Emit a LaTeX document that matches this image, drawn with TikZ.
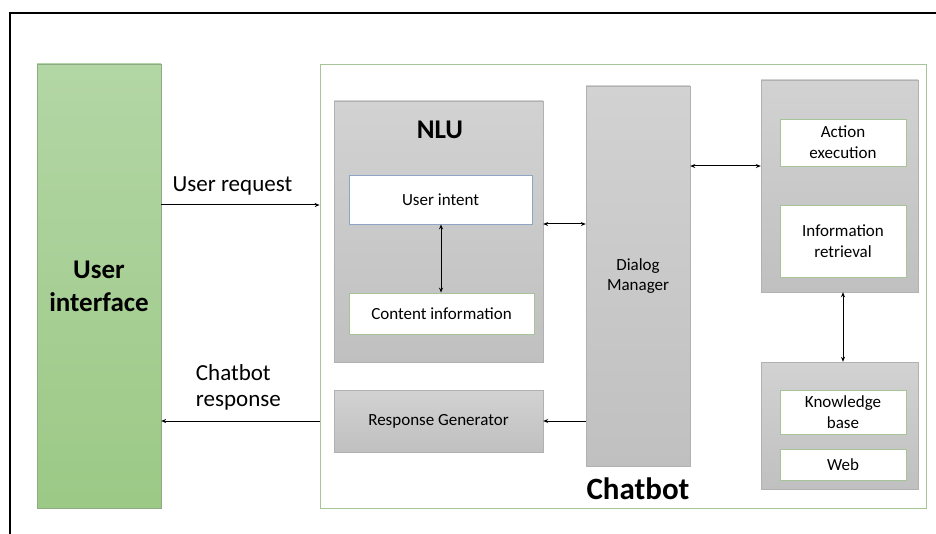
\documentclass[tikz,border=0pt]{standalone}
\usepackage{fontspec}
\setmainfont{Carlito}
\usetikzlibrary{arrows.meta,positioning,calc}
\definecolor{uiTop}{HTML}{B3D6A5}
\definecolor{uiBot}{HTML}{9CC986}
\definecolor{boxLine}{HTML}{A6C497}
\definecolor{greyTop}{HTML}{D2D2D2}
\definecolor{greyBot}{HTML}{C0C0C0}
\definecolor{intentLine}{HTML}{8EA6C6}
\tikzset{
	greybox/.style={draw=greyBot!92!black, line width=0.4pt, top color=greyTop, bottom color=greyBot, inner sep=0pt},
	whitebox/.style={draw=boxLine, fill=white, line width=0.8pt, align=center, font=\fontsize{17}{21}\selectfont, inner sep=0pt},
	both/.style={{Stealth[length=5pt,width=4pt]}-{Stealth[length=5pt,width=4pt]}, line width=1pt},
	one/.style={-{Stealth[length=5pt,width=4pt]}, line width=1pt},
	biglab/.style={font=\fontsize{23}{26}\selectfont, align=left}
}
\begin{document}
\begin{tikzpicture}[x=1pt, y=-1pt]
	\useasboundingbox (0,0) rectangle (936,534);
	% frame round the figure
	\draw[line width=2.4pt] (10,534) -- (10,13) -- (936,13);
	
	\node[draw=uiTop!80!black, line width=0.3pt, top color=uiTop, bottom color=uiBot, minimum width=124pt, minimum height=444pt, align=center, font=\fontsize{27}{33}\selectfont\bfseries] (ui) at (99,286) {User\\interface};
	\node[draw=boxLine, line width=0.8pt, minimum width=606pt, minimum height=444pt] (bot) at (623,286) {};
	\node[font=\fontsize{31}{36}\selectfont\bfseries] (botlab) at (638,489) {Chatbot};
	
	% NLU block
	\node[greybox, minimum width=209pt, minimum height=261pt] (nlu) at (438.5,231.5) {};
	\node[font=\fontsize{27}{32}\selectfont\bfseries] (nlulab) at (440,130) {NLU};
	\node[whitebox, draw=intentLine, minimum width=183pt, minimum height=49pt] (intent) at (440.5,199.5) {User intent};
	\node[whitebox, minimum width=185pt, minimum height=41pt] (content) at (441.5,313.5) {Content information};
	
	\node[greybox, minimum width=209pt, minimum height=62pt, font=\fontsize{17}{21}\selectfont] (rg) at (438.5,421) {Response Generator};
	\node[greybox, minimum width=104pt, minimum height=380pt, align=center, font=\fontsize{17}{20}\selectfont] (dm) at (638,276) {Dialog\\Manager};
	
	% action side
	\node[greybox, minimum width=157pt, minimum height=212pt] (act) at (839.5,186) {};
	\node[whitebox, minimum width=126pt, minimum height=47pt] (action) at (843,142.5) {Action\\execution};
	\node[whitebox, minimum width=126pt, minimum height=72pt] (info) at (843,241) {Information\\retrieval};
	\node[greybox, minimum width=157pt, minimum height=127pt] (kb) at (839.5,425.5) {};
	\node[whitebox, minimum width=126pt, minimum height=44pt] (know) at (843,412) {Knowledge\\base};
	\node[whitebox, minimum width=126pt, minimum height=31pt] (web) at (843,464.5) {Web};
	
	% connectors
	\draw[one] (ui.east |- 0,205) -- node[biglab, above=6pt, xshift=-8pt] {User request} (bot.west |- 0,205);
	\draw[one] (bot.west |- rg.center) -- node[biglab, above=6.5pt, xshift=-2pt] {Chatbot\\response} (ui.east |- rg.center);
	\draw[both] (intent.south -| 441,0) -- (content.north -| 441,0);
	\draw[both] (nlu.east |- 0,224) -- (dm.west |- 0,224);
	\draw[both] (dm.east |- 0,166) -- (act.west |- 0,166);
	\draw[both] (act.south -| action.center) -- (kb.north -| action.center);
	\draw[one] (dm.west |- rg.east) -- (rg.east);
\end{tikzpicture}
\end{document}
